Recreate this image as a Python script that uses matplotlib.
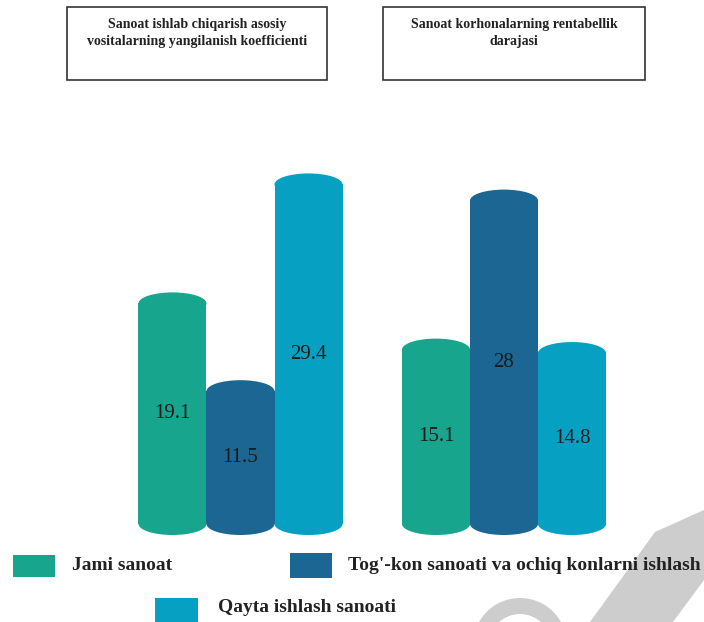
import matplotlib.pyplot as plt
from matplotlib.patches import Rectangle, Ellipse, Polygon, Wedge
from matplotlib.transforms import Affine2D
import numpy as np

# Data
groups = ["Sanoat ishlab chiqarish asosiy\nvositalarning yangilanish koefficienti",
          "Sanoat korhonalarning rentabellik\ndarajasi"]
series = ["Jami sanoat", "Tog'-kon sanoati va ochiq konlarni ishlash", "Qayta ishlash sanoati"]
values = [[19.1, 11.5, 29.4],
          [15.1, 28, 14.8]]
labels = [["19.1", "11.5", "29.4"],
          ["15.1", "28", "14.8"]]
colors = ["#17a58d", "#1b6692", "#06a0c3"]

W, H = 704, 622
fig = plt.figure(figsize=(W / 100, H / 100), dpi=100)
ax = fig.add_axes([0, 0, 1, 1])
ax.set_xlim(-172.5 / 68, (W - 172.5) / 68)
ax.set_ylim(-98 / 11.55, (H - 98) / 11.55)
ax.axis("off")

# pixel coords (from top-left) -> figure
pxt = Affine2D().scale(1 / W, -1 / H).translate(0, 1) + fig.transFigure

def px(x, y):
    return x / W, 1 - y / H

bw = 1.0
eh = 22 / 11.55
group_off = 3.875
z = 2
for g in range(len(groups)):
    for i in range(len(series)):
        x = g * group_off + i
        v = values[g][i]
        c = colors[i]
        ax.add_patch(Ellipse((x, 0), bw, eh, color=c, zorder=z, lw=0))
        ax.add_patch(Rectangle((x - bw / 2, 0), bw, v, color=c, zorder=z, lw=0))
        ax.add_patch(Ellipse((x, v), bw, eh, color=c, zorder=z + 0.1, lw=0))
        ax.text(x, v / 2, labels[g][i], ha="center", va="center",
                fontsize=15, family="Liberation Serif", color="#1a1a1a", zorder=z + 0.2)
        z += 1

# watermark (behind the legend text)
fig.patches.append(Polygon([(590, 622), (655, 532), (704, 510), (704, 580), (673, 622)],
                           closed=True, transform=pxt, color="#cdcdcd", lw=0, zorder=1))
fig.patches.append(Wedge((520, 645), 47, 180, 360, width=16, transform=pxt,
                         color="#cdcdcd", lw=0, zorder=1))

# title boxes
boxes = [(67, 7, 327, 80), (383, 7, 645, 80)]
for (x0, y0, x1, y1), t in zip(boxes, groups):
    fig.patches.append(Rectangle((x0, y0), x1 - x0, y1 - y0, transform=pxt,
                                 fill=False, edgecolor="#333333", lw=1.2, zorder=2))
    fig.text(*px((x0 + x1) / 2, 33), t, ha="center", va="center", fontsize=10,
             fontweight="bold", family="Liberation Serif", color="#222222", linespacing=1.45)

# legend
leg = [(13, 555, 55, 577, 72, 566),
       (290, 553, 332, 578, 348, 566),
       (155, 598, 198, 622, 218, 608)]
for i, (x0, y0, x1, y1, tx, ty) in enumerate(leg):
    fig.patches.append(Rectangle((x0, y0), x1 - x0, y1 - y0, transform=pxt,
                                 color=colors[i], lw=0, zorder=2))
    fig.text(*px(tx, ty), series[i], ha="left", va="center", fontsize=14,
             fontweight="bold", family="Liberation Serif", color="#222222", zorder=3)

fig.savefig("out.png", dpi=100)
